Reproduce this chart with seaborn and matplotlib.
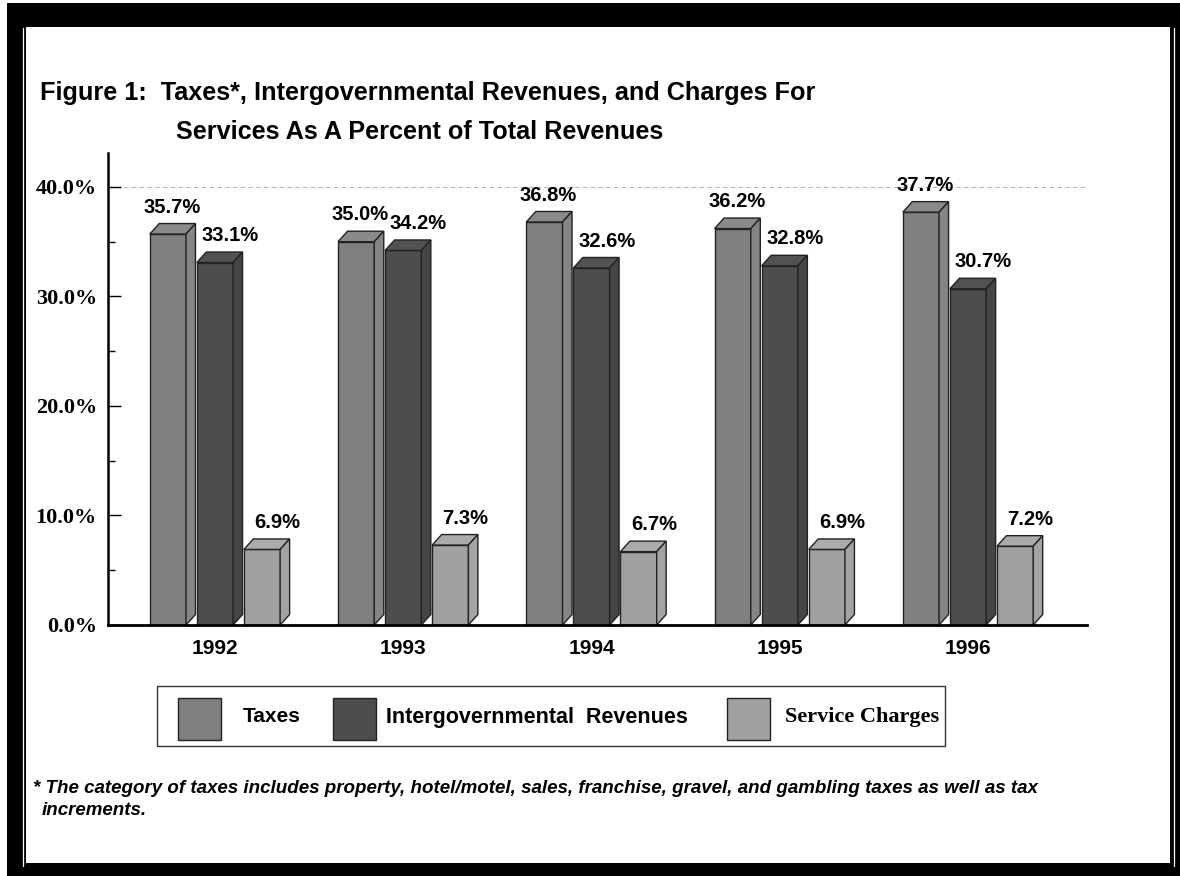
import numpy as np
import pandas as pd
import seaborn as sns
import matplotlib.pyplot as plt
from matplotlib.patches import Rectangle, Polygon
from matplotlib.lines import Line2D
from matplotlib.ticker import MultipleLocator, FuncFormatter

# Data
years = ['1992', '1993', '1994', '1995', '1996']
taxes = [35.7, 35.0, 36.8, 36.2, 37.7]
intergov = [33.1, 34.2, 32.6, 32.8, 30.7]
service = [6.9, 7.3, 6.7, 6.9, 7.2]
series = ['Taxes', 'Intergovernmental Revenues', 'Service Charges']

df = pd.DataFrame({
    'year': years * 3,
    'value': taxes + intergov + service,
    'series': np.repeat(series, len(years)),
})

front = {'Taxes': '#808080', 'Intergovernmental Revenues': '#4d4d4d', 'Service Charges': '#a0a0a0'}
top_col = ['#8a8a8a', '#525252', '#ababab']
side_col = ['#858585', '#454545', '#a3a3a3']
label_dx = [3, 11, 11]  # label nudge right, in points

sns.set_theme(style='white')
plt.rcParams['font.family'] = ['Liberation Sans', 'DejaVu Sans']
plt.rcParams['text.color'] = 'black'
plt.rcParams['xtick.color'] = 'black'
plt.rcParams['ytick.color'] = 'black'

W, H = 1180, 876
fig = plt.figure(figsize=(W / 100, H / 100), dpi=100)


def fx(x):
    return x / W


def fy(y):
    return 1 - y / H


# black page frame
fig.patches.append(Rectangle((fx(7), fy(876)), fx(1173), 873 / H, transform=fig.transFigure,
                             facecolor='black', edgecolor='none', zorder=-3))
fig.patches.append(Rectangle((fx(26), fy(863)), fx(1144), 836 / H, transform=fig.transFigure,
                             facecolor='white', edgecolor='none', zorder=-2))
for xl in (22.5, 1174):
    fig.lines.append(Line2D([fx(xl), fx(xl)], [fy(28), fy(866)], transform=fig.transFigure,
                            color='white', lw=0.9, zorder=-1))

ax = fig.add_axes([fx(108), fy(625), fx(1087 - 108), (625 - 153) / H])
ax.patch.set_alpha(0)
sns.barplot(data=df, x='year', y='value', hue='series', hue_order=series, palette=front,
            width=0.75, gap=0.23, edgecolor='#222222', linewidth=1, saturation=1,
            legend=False, ax=ax, zorder=2)

xlo, xhi = -0.568, 4.632
ax.set_xlim(xlo, xhi)
ax.set_ylim(0, 43.1)

# 3D look: top and side faces
ax_w = fx(1087 - 108) * W
ax_h = (625 - 153)
dx = 9.5 / ax_w * (xhi - xlo)
dy = 10.5 / ax_h * 43.1
for i, cont in enumerate(ax.containers):
    for bar in cont:
        x0, w, h = bar.get_x(), bar.get_width(), bar.get_height()
        ax.add_patch(Polygon([(x0, h), (x0 + w, h), (x0 + w + dx, h + dy), (x0 + dx, h + dy)],
                             closed=True, facecolor=top_col[i], edgecolor='#222222', lw=1, zorder=2))
        ax.add_patch(Polygon([(x0 + w, 0), (x0 + w + dx, dy), (x0 + w + dx, h + dy), (x0 + w, h)],
                             closed=True, facecolor=side_col[i], edgecolor='#222222', lw=1, zorder=2))
        ax.annotate(f'{h:.1f}%', (x0 + w / 2, h), xytext=(label_dx[i], 12.5), textcoords='offset points',
                    ha='center', va='bottom', fontsize=14.5, fontweight='bold', color='black')

ax.axhline(40, color='#bbbbbb', lw=0.8, ls=(0, (4, 3)), zorder=0)

for s in ['top', 'right']:
    ax.spines[s].set_visible(False)
ax.spines['left'].set_linewidth(1.8)
ax.spines['bottom'].set_linewidth(2.0)
ax.spines['left'].set_color('black')
ax.spines['bottom'].set_color('black')

ax.yaxis.set_major_locator(MultipleLocator(10))
ax.yaxis.set_minor_locator(MultipleLocator(5))
ax.yaxis.set_major_formatter(FuncFormatter(lambda v, p: f'{v:.1f}%'))
ax.tick_params(axis='y', which='major', direction='in', length=9.5, width=1, color='black',
               left=True, pad=8)
ax.tick_params(axis='y', which='minor', direction='in', length=5, width=1, color='black', left=True)
ax.tick_params(axis='x', direction='in', length=9, width=1, color='black', bottom=True, pad=10)
for lab in ax.get_yticklabels():
    lab.set_family(['Liberation Serif', 'DejaVu Serif'])
    lab.set_fontweight('bold')
    lab.set_fontsize(16)
for lab in ax.get_xticklabels():
    lab.set_fontweight('bold')
    lab.set_fontsize(15)
ax.set_xlabel('')
ax.set_ylabel('')
ax.grid(False)

# title
fig.text(fx(40), fy(100), 'Figure 1:  Taxes*, Intergovernmental Revenues, and Charges For',
         fontsize=18.2, fontweight='bold', ha='left', va='baseline')
fig.text(fx(176), fy(139), 'Services As A Percent of Total Revenues',
         fontsize=18.2, fontweight='bold', ha='left', va='baseline')

# legend box
fig.patches.append(Rectangle((fx(157), fy(746)), fx(945 - 157), 60 / H, transform=fig.transFigure,
                             facecolor='white', edgecolor='#333333', lw=1, zorder=2))
leg_items = [(178, 'Taxes', 243, 'Liberation Sans', 15),
             (333, 'Intergovernmental  Revenues', 386, 'Liberation Sans', 15.5),
             (727, 'Service Charges', 785, 'Liberation Serif', 16)]
for (px, name, tx, fam, fs), col in zip(leg_items, front.values()):
    fig.patches.append(Rectangle((fx(px), fy(740)), fx(43), 42 / H, transform=fig.transFigure,
                                 facecolor=col, edgecolor='#222222', lw=1, zorder=3))
    fig.text(fx(tx), fy(717), name, family=[fam, 'DejaVu Sans'], fontsize=fs,
             fontweight='bold', ha='left', va='center', zorder=4)

# footnote
fig.text(fx(33), fy(793), '* The category of taxes includes property, hotel/motel, sales, franchise, gravel, and gambling taxes as well as tax',
         fontsize=13.5, fontweight='bold', fontstyle='italic', ha='left', va='baseline')
fig.text(fx(42), fy(815), 'increments.', fontsize=13.5, fontweight='bold', fontstyle='italic',
         ha='left', va='baseline')

fig.savefig('out.png', dpi=100)
